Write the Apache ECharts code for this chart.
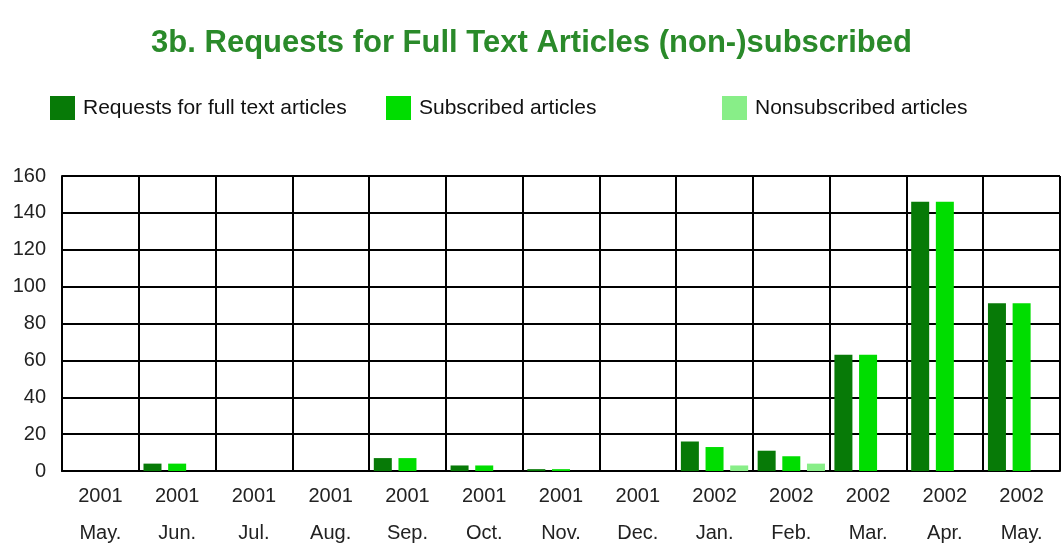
<!DOCTYPE html>
<html>
<head>
<meta charset="utf-8">
<script src="https://cdn.jsdelivr.net/npm/echarts@6/dist/echarts.min.js"></script>
<style>html,body{margin:0;padding:0;background:#fff;}#c{width:1063px;height:544px;}</style>
</head>
<body>
<div id="c"></div>
<script>
const years = ['2001','2001','2001','2001','2001','2001','2001','2001','2002','2002','2002','2002','2002'];
const months = ['May.','Jun.','Jul.','Aug.','Sep.','Oct.','Nov.','Dec.','Jan.','Feb.','Mar.','Apr.','May.'];
const requests = [0,4,0,0,7,3,1,0,16,11,63,146,91];
const subscribed = [0,4,0,0,7,3,1,0,13,8,63,146,91];
const nonsubscribed = [0,0,0,0,0,0,0,0,3,4,0,0,0];
const seriesNames = ['Requests for full text articles','Subscribed articles','Nonsubscribed articles'];
const colors = ['#077a07','#00dd00','#88ee88'];

const categories = years.map((y,i)=>y+'\n'+months[i]);
const font = '"Liberation Sans", Arial, sans-serif';

const chart = echarts.init(document.getElementById('c'));
const legendBase = {
  top: 96, padding: 0, itemWidth: 25, itemHeight: 24, itemGap: 0, icon: 'rect',
  textStyle: {fontFamily: font, fontSize: 21, color: '#111', padding: [0,0,0,3]}
};
chart.setOption({
  animation: false,
  backgroundColor: '#fff',
  color: colors,
  title: {
    text: '3b. Requests for Full Text Articles (non-)subscribed',
    left: 'center', top: 23,
    textStyle: {fontFamily: font, fontSize: 31, fontWeight: 'bold', color: '#2a8a2a'}
  },
  legend: [
    Object.assign({data: [seriesNames[0]], left: 50}, legendBase),
    Object.assign({data: [seriesNames[1]], left: 386}, legendBase),
    Object.assign({data: [seriesNames[2]], left: 722}, legendBase)
  ],
  grid: {left: 62, right: 3, top: 176, bottom: 73, containLabel: false, outerBoundsMode: 'none'},
  xAxis: {
    type: 'category', data: categories, boundaryGap: true,
    axisLine: {show: true, lineStyle: {color: '#000', width: 2}},
    axisTick: {show: false},
    splitLine: {show: true, lineStyle: {color: '#000', width: 2}},
    axisLabel: {interval: 0, margin: 7, fontFamily: font, fontSize: 20, color: '#222', lineHeight: 37}
  },
  yAxis: {
    type: 'value', min: 0, max: 160, interval: 20,
    axisLine: {show: true, lineStyle: {color: '#000', width: 2}},
    axisTick: {show: false},
    splitLine: {show: true, lineStyle: {color: '#000', width: 2}},
    axisLabel: {margin: 16, fontFamily: font, fontSize: 20, color: '#222'}
  },
  series: [
    {name: seriesNames[0], type: 'bar', data: requests, barWidth: 18, barGap: '37%'},
    {name: seriesNames[1], type: 'bar', data: subscribed, barWidth: 18, barGap: '37%'},
    {name: seriesNames[2], type: 'bar', data: nonsubscribed, barWidth: 18, barGap: '37%'}
  ]
});
</script>
</body>
</html>
